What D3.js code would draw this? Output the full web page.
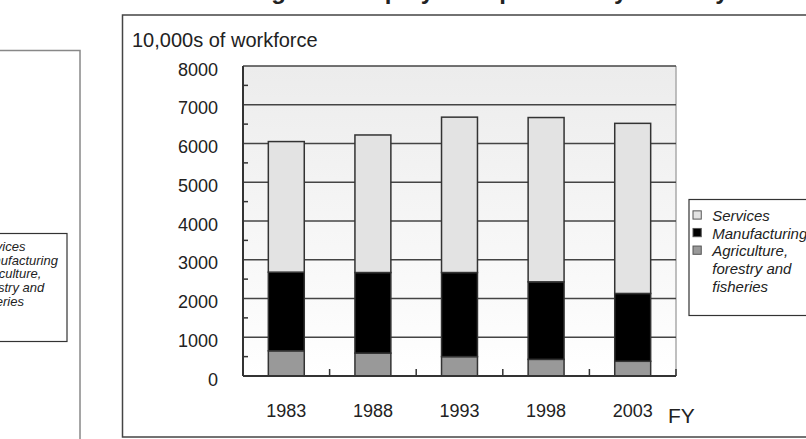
<!DOCTYPE html>
<html>
<head>
<meta charset="utf-8">
<script src="https://cdn.jsdelivr.net/npm/d3@7"></script>
<style>
  body { margin: 0; background: #fff; }
  svg { display: block; font-family: "Liberation Sans", Arial, sans-serif; }
</style>
</head>
<body>
<div id="chart"></div>
<script>
// fiscal years and workforce by industry (10,000s)
const years = ['1983', '1988', '1993', '1998', '2003'];
const agriculture = [650, 590, 500, 430, 380];
const manufacturing = [2030, 2080, 2170, 2000, 1750];
const services = [3370, 3550, 4010, 4240, 4390];
const yTicks = [0, 1000, 2000, 3000, 4000, 5000, 6000, 7000, 8000];
const seriesNames = ['Services', 'Manufacturing', 'Agriculture, forestry and fisheries'];

const width = 806, height = 439;
const plot = { left: 243, right: 676, top: 66, bottom: 376 };
const colors = { agri: '#999999', manuf: '#000000', serv: '#e3e3e3' };

const svg = d3.select('#chart').append('svg')
  .attr('width', width)
  .attr('height', height);

const defs = svg.append('defs');
const grad = defs.append('linearGradient')
  .attr('id', 'bg').attr('x1', 0).attr('y1', 0).attr('x2', 0).attr('y2', 1);
grad.append('stop').attr('offset', '0%').attr('stop-color', '#ececec');
grad.append('stop').attr('offset', '100%').attr('stop-color', '#ffffff');

// title, cut off at the very top like the source
svg.append('text')
  .attr('x', 470)
  .attr('y', -1)
  .attr('text-anchor', 'middle')
  .attr('font-size', 24)
  .attr('font-weight', 'bold')
  .attr('fill', '#222')
  .text('Changes in Employed Population by Industry');

// neighbouring panel on the left (partly outside the view)
svg.append('rect')
  .attr('x', -40).attr('y', 50.5)
  .attr('width', 120).attr('height', 430)
  .attr('fill', 'none').attr('stroke', '#888').attr('stroke-width', 1.5);

// main frame
svg.append('rect')
  .attr('x', 122.5).attr('y', 15)
  .attr('width', 740).attr('height', 422)
  .attr('fill', 'none').attr('stroke', '#444').attr('stroke-width', 1.5);

svg.append('text')
  .attr('x', 132)
  .attr('y', 47)
  .attr('font-size', 20)
  .attr('fill', '#222')
  .text('10,000s of workforce');

const data = years.map((y, i) => ({
  year: y,
  agri: agriculture[i],
  manuf: manufacturing[i],
  serv: services[i]
}));

const xScale = d3.scaleBand()
  .domain(years)
  .range([plot.left, plot.right])
  .padding(0);

const yScale = d3.scaleLinear()
  .domain([0, 8000])
  .range([plot.bottom, plot.top]);

// plot background
svg.append('rect')
  .attr('x', plot.left).attr('y', plot.top)
  .attr('width', plot.right - plot.left)
  .attr('height', plot.bottom - plot.top)
  .attr('fill', 'url(#bg)');

svg.append('line')
  .attr('x1', plot.right).attr('x2', plot.right)
  .attr('y1', plot.top).attr('y2', plot.bottom)
  .attr('stroke', '#aaa').attr('stroke-width', 1.5);

// gridlines
svg.append('g')
  .selectAll('line')
  .data(yTicks.filter(d => d > 0))
  .join('line')
  .attr('x1', plot.left).attr('x2', plot.right)
  .attr('y1', d => yScale(d)).attr('y2', d => yScale(d))
  .attr('stroke', '#444').attr('stroke-width', 1.5);

// minor ticks on the y axis
svg.append('g')
  .selectAll('line')
  .data(yTicks.slice(0, -1).map(d => d + 500))
  .join('line')
  .attr('x1', plot.left).attr('x2', plot.left + 5)
  .attr('y1', d => yScale(d)).attr('y2', d => yScale(d))
  .attr('stroke', '#333').attr('stroke-width', 1.5);

// category boundary ticks on the x axis
svg.append('g')
  .selectAll('line')
  .data(years)
  .join('line')
  .attr('x1', d => xScale(d) + xScale.bandwidth())
  .attr('x2', d => xScale(d) + xScale.bandwidth())
  .attr('y1', plot.bottom).attr('y2', plot.bottom - 7)
  .attr('stroke', '#333').attr('stroke-width', 1.5);

// stacked bars
const stack = d3.stack().keys(['agri', 'manuf', 'serv']);
const layers = stack(data);
const barW = xScale.bandwidth() * 0.415;

svg.append('g')
  .selectAll('g')
  .data(layers)
  .join('g')
  .attr('fill', d => colors[d.key])
  .selectAll('rect')
  .data(d => d)
  .join('rect')
  .attr('x', d => xScale(d.data.year) + xScale.bandwidth() / 2 - barW / 2)
  .attr('width', barW)
  .attr('y', d => yScale(d[1]))
  .attr('height', d => yScale(d[0]) - yScale(d[1]))
  .attr('stroke', '#333')
  .attr('stroke-width', 1.5);

// axis lines
svg.append('line')
  .attr('x1', plot.left).attr('x2', plot.left)
  .attr('y1', plot.top).attr('y2', plot.bottom)
  .attr('stroke', '#333').attr('stroke-width', 2);
svg.append('line')
  .attr('x1', plot.left).attr('x2', plot.right)
  .attr('y1', plot.bottom).attr('y2', plot.bottom)
  .attr('stroke', '#333').attr('stroke-width', 2);

const yAxis = d3.axisLeft(yScale)
  .tickValues(yTicks)
  .tickFormat(d3.format('d'))
  .tickSize(0)
  .tickPadding(25);
const yAxisG = svg.append('g')
  .attr('transform', `translate(${plot.left},0)`)
  .call(yAxis);
yAxisG.select('.domain').remove();
yAxisG.selectAll('text')
  .attr('font-size', 18)
  .attr('font-family', '"Liberation Sans", Arial, sans-serif')
  .attr('fill', '#222')
  .attr('dy', '0.5em');

const xAxis = d3.axisBottom(xScale).tickSize(0).tickPadding(28);
const xAxisG = svg.append('g')
  .attr('transform', `translate(0,${plot.bottom})`)
  .call(xAxis);
xAxisG.select('.domain').remove();
xAxisG.selectAll('text')
  .attr('font-size', 18)
  .attr('font-family', '"Liberation Sans", Arial, sans-serif')
  .attr('fill', '#222');

svg.append('text')
  .attr('x', 668)
  .attr('y', 423)
  .attr('font-size', 21)
  .attr('fill', '#222')
  .text('FY');

// legend
function drawLegend(x, y, boxW, fontSize, lineH, boxH) {
  const g = svg.append('g').attr('transform', `translate(${x},${y})`);
  g.append('rect')
    .attr('x', 0).attr('y', 0)
    .attr('width', boxW).attr('height', boxH)
    .attr('fill', '#fff').attr('stroke', '#333').attr('stroke-width', 1.2);
  const lines = [
    { text: seriesNames[0], key: 'serv' },
    { text: seriesNames[1], key: 'manuf' },
    { text: 'Agriculture,', key: 'agri' },
    { text: 'forestry and', key: null },
    { text: 'fisheries', key: null }
  ];
  const sq = fontSize * 0.55;
  const textX = 3 + sq + 12 * fontSize / 15;
  lines.forEach((l, i) => {
    const base = lineH * (i + 1) + 4 * fontSize / 15;
    if (l.key) {
      g.append('rect')
        .attr('x', 4 * fontSize / 15).attr('y', base - sq - 2)
        .attr('width', sq).attr('height', sq)
        .attr('fill', colors[l.key]).attr('stroke', '#555').attr('stroke-width', 1);
    }
    g.append('text')
      .attr('x', textX)
      .attr('y', base)
      .attr('font-size', fontSize)
      .attr('font-style', 'italic')
      .attr('fill', '#222')
      .text(l.text);
  });
}

drawLegend(689, 199.5, 140, 15, 17.6, 116);
drawLegend(-45, 233.5, 112, 13, 13.8, 108);
</script>
</body>
</html>
